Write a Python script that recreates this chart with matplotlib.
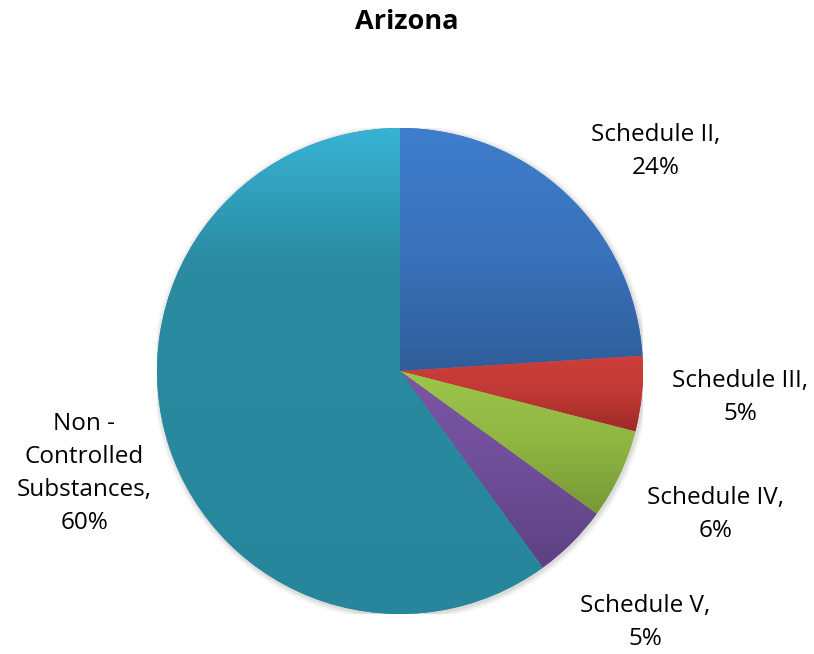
import numpy as np
import matplotlib.pyplot as plt
from matplotlib.colors import LinearSegmentedColormap
from matplotlib.patches import Circle

# Arizona - share by schedule
labels = ['Schedule II', 'Schedule III', 'Schedule IV', 'Schedule V', 'Non -\nControlled\nSubstances']
shares = [24, 5, 6, 5, 60]

# top / bottom shades for each slice
tops = ['#3e7ecd', '#cd3f3b', '#9dc64b', '#7b56a6', '#37b3d4']
mids = ['#3a72bb', '#c03935', '#8fb542', '#6f4e99', '#2a8ba1']
bottoms = ['#2f5e9a', '#9d2a27', '#789837', '#5d4181', '#27869c']
mid_stop = [0.5, 0.5, 0.5, 0.5, 0.28]

# where the labels sit (pie radius = 1)
label_xy = [(1.053, 0.905), (1.40, -0.11), (1.30, -0.59), (1.01, -1.035), (-1.30, -0.42)]

plt.rcParams['font.family'] = ['Open Sans', 'DejaVu Sans']

fig = plt.figure(figsize=(8.14, 6.54), dpi=100)
ax = fig.add_axes([157 / 814, 40 / 654, 486 / 814, 486 / 654])

# soft shadow round the edge
for i, a in enumerate([0.05, 0.04, 0.03, 0.02]):
    ax.add_patch(Circle((0.004, -0.006), 1.0 + 0.006 * (i + 1), color='#000000', alpha=a, lw=0, zorder=0))

wedges, _ = ax.pie(shares, startangle=90, counterclock=False, radius=1,
                   colors=mids, wedgeprops=dict(linewidth=0))

for w, top, mid, bot, ms in zip(wedges, tops, mids, bottoms, mid_stop):
    t = np.radians(np.linspace(w.theta1, w.theta2, 200))
    ys = np.concatenate([[0], np.sin(t)])
    xs = np.concatenate([[0], np.cos(t)])
    cmap = LinearSegmentedColormap.from_list('g', [(0, top), (ms, mid), (1, bot)])
    grad = np.linspace(0, 1, 256).reshape(-1, 1)
    im = ax.imshow(grad, cmap=cmap, extent=(xs.min(), xs.max(), ys.min(), ys.max()),
                   origin='upper', aspect='auto', zorder=2)
    im.set_clip_path(w)

for lab, val, (x, y) in zip(labels, shares, label_xy):
    ax.text(x, y, f'{lab},\n{val}%', ha='center', va='center', fontsize=17.5,
            linespacing=1.5, color='#000000')

ax.set_xlim(-1, 1)
ax.set_ylim(-1, 1)
ax.set_aspect('equal')
ax.axis('off')

fig.text(0.5, 1 - 22 / 654, 'Arizona', ha='center', va='center', fontsize=19.5, fontweight='bold')

fig.savefig('out.png', dpi=100)
